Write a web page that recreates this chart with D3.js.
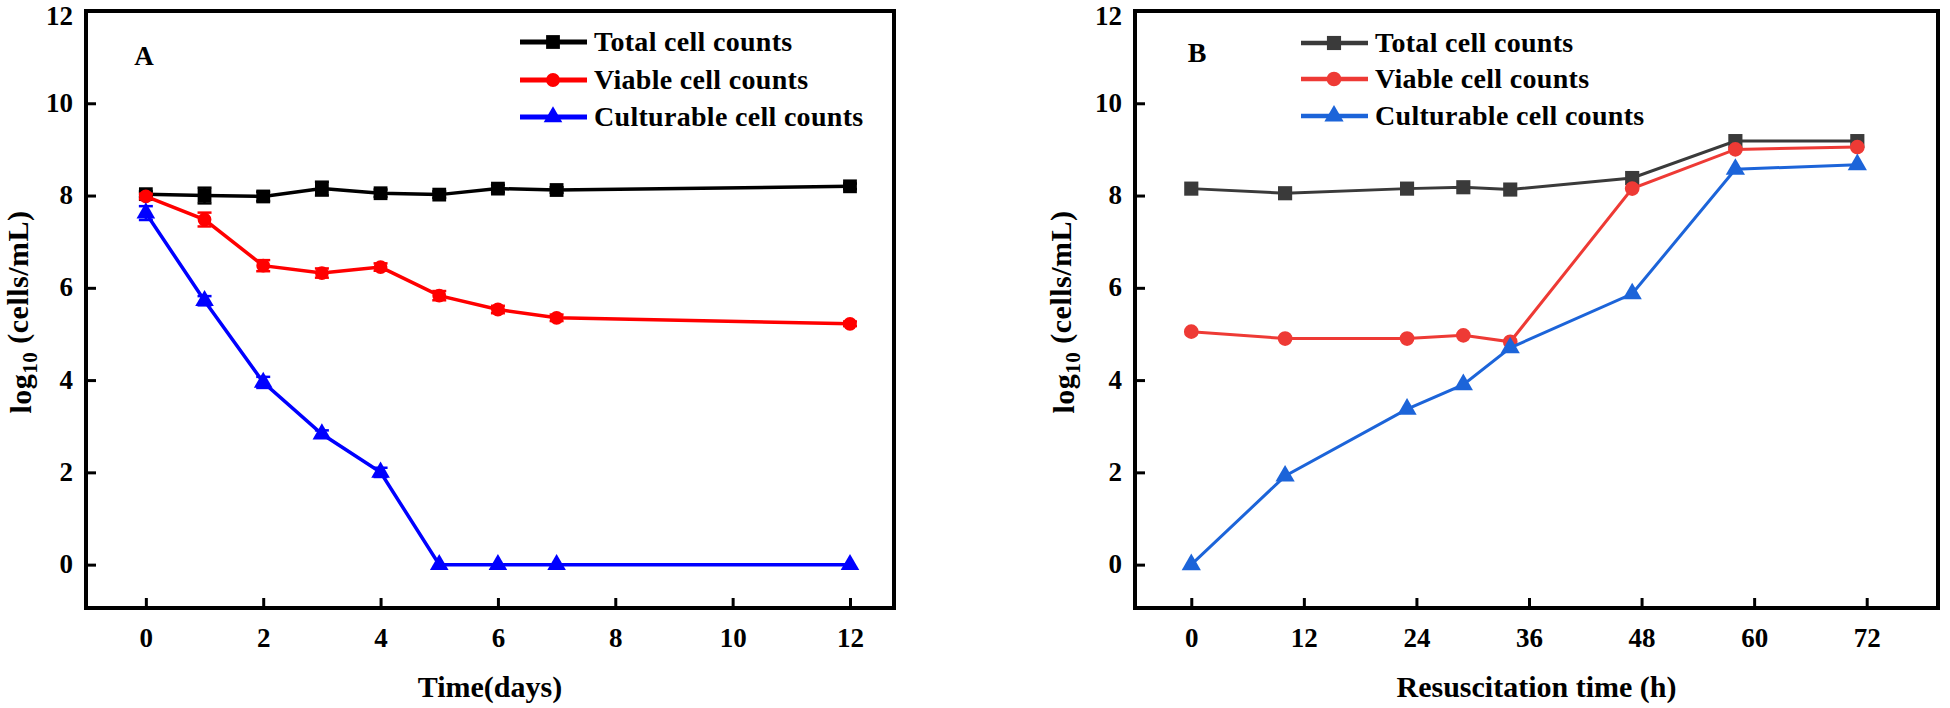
<!DOCTYPE html>
<html>
<head>
<meta charset="utf-8">
<script src="https://cdn.jsdelivr.net/npm/d3@7"></script>
<style>
  body { margin: 0; background: #fff; }
  text { font-family: "Liberation Serif", "Times New Roman", serif; font-weight: bold; fill: #000; }
</style>
</head>
<body>
<div id="chart"></div>
<script>
// Panel A: survival over days
const daysA = [0, 1, 2, 3, 4, 5, 6, 7, 12];
const totalA = [8.03, 8.0, 7.98, 8.15, 8.05, 8.02, 8.15, 8.12, 8.2];
const viableA = [7.98, 7.48, 6.48, 6.32, 6.45, 5.83, 5.53, 5.35, 5.22];
const cultA = [7.62, 5.72, 3.95, 2.83, 2.0, 0, 0, 0, 0];
const totalErrA = [0.06, 0.17, 0.1, 0.15, 0.08, 0.07, 0.08, 0.06, 0.06];
const viableErrA = [0.06, 0.15, 0.12, 0.1, 0.08, 0.1, 0.08, 0.07, 0.05];
const cultErrA = [0.15, 0.1, 0.12, 0.08, 0.1, 0, 0, 0, 0];
const xTicksA = [0, 2, 4, 6, 8, 10, 12];

// Panel B: resuscitation
const hoursB = [0, 10, 23, 29, 34, 47, 58, 71];
const totalB = [8.15, 8.05, 8.15, 8.18, 8.13, 8.38, 9.18, 9.18];
const viableB = [5.05, 4.9, 4.9, 4.97, 4.83, 8.15, 9.0, 9.05];
const cultB = [0, 1.92, 3.37, 3.9, 4.7, 5.87, 8.57, 8.67];
const xTicksB = [0, 12, 24, 36, 48, 60, 72];

const yTicks = [0, 2, 4, 6, 8, 10, 12];
const seriesNames = ['Total cell counts', 'Viable cell counts', 'Culturable cell counts'];
const symbols = [d3.symbolSquare, d3.symbolCircle, d3.symbolTriangle];

const svg = d3.select('#chart')
  .append('svg')
  .attr('width', 1950)
  .attr('height', 708);

function drawPanel(p) {
  const x = d3.scaleLinear().domain(p.xDomain).range([p.left, p.right]);
  const y = d3.scaleLinear().domain([-0.94, 12]).range([608, 11]);
  const g = svg.append('g');

  // axes, ticks pointing inward
  const xAxis = g.append('g')
    .attr('transform', `translate(0,${y(-0.94)})`)
    .call(d3.axisBottom(x).tickValues(p.xTicks).tickSize(-10).tickPadding(20));
  const yAxis = g.append('g')
    .attr('transform', `translate(${x(p.xDomain[0])},0)`)
    .call(d3.axisLeft(y).tickValues(yTicks).tickSize(-10).tickPadding(13));
  [xAxis, yAxis].forEach(a => {
    a.select('.domain').remove();
    a.selectAll('.tick line').attr('stroke', '#000').attr('stroke-width', 3);
    a.selectAll('.tick text').style('font-size', '27px').style('font-weight', 'bold');
  });
  // top label sits a little lower, as in the original
  yAxis.selectAll('.tick text').attr('dy', d => d === 12 ? '0.5em' : '0.3em');

  // frame
  g.append('rect')
    .attr('x', x(p.xDomain[0]))
    .attr('y', y(12))
    .attr('width', x(p.xDomain[1]) - x(p.xDomain[0]))
    .attr('height', y(-0.94) - y(12))
    .attr('fill', 'none')
    .attr('stroke', '#000')
    .attr('stroke-width', 4);

  // lines, error bars and markers
  p.series.forEach((vals, i) => {
    const pts = p.xs.map((d, j) => ({ x: d, y: vals[j], e: p.errs ? p.errs[i][j] : 0 }));
    g.append('path')
      .datum(pts)
      .attr('fill', 'none')
      .attr('stroke', p.colors[i])
      .attr('stroke-width', p.lineW)
      .attr('d', d3.line().x(d => x(d.x)).y(d => y(d.y)));

    if (p.errs) {
      const eb = g.append('g').attr('stroke', p.colors[i]).attr('stroke-width', 2.5);
      pts.filter(d => d.e > 0).forEach(d => {
        eb.append('line').attr('x1', x(d.x)).attr('x2', x(d.x)).attr('y1', y(d.y - d.e)).attr('y2', y(d.y + d.e));
        [d.y - d.e, d.y + d.e].forEach(v => {
          eb.append('line').attr('x1', x(d.x) - 7).attr('x2', x(d.x) + 7).attr('y1', y(v)).attr('y2', y(v));
        });
      });
    }

    g.selectAll(null)
      .data(pts)
      .enter()
      .append('path')
      .attr('transform', d => `translate(${x(d.x)},${y(d.y)})`)
      .attr('d', d3.symbol().type(symbols[i]).size(p.markSize[i]))
      .attr('fill', p.colors[i]);
  });

  // legend
  seriesNames.forEach((name, i) => {
    const ly = p.legY[i];
    g.append('line')
      .attr('x1', p.legX).attr('x2', p.legX + 67)
      .attr('y1', ly).attr('y2', ly)
      .attr('stroke', p.colors[i]).attr('stroke-width', p.lineW + 1.5);
    g.append('path')
      .attr('transform', `translate(${p.legX + 33},${ly})`)
      .attr('d', d3.symbol().type(symbols[i]).size(p.markSize[i]))
      .attr('fill', p.colors[i]);
    g.append('text')
      .attr('x', p.legX + 74)
      .attr('y', ly)
      .attr('dy', '0.33em')
      .style('font-size', '28px')
      .style('letter-spacing', '0.3px')
      .text(name);
  });

  // panel letter
  g.append('text')
    .attr('x', p.letterX)
    .attr('y', p.letterY)
    .attr('dy', '0.35em')
    .attr('text-anchor', 'middle')
    .style('font-size', p.letterSize)
    .text(p.letter);

  // axis titles
  g.append('text')
    .attr('x', (x(p.xDomain[0]) + x(p.xDomain[1])) / 2)
    .attr('y', 697)
    .attr('text-anchor', 'middle')
    .style('font-size', '30px')
    .text(p.xTitle);

  const yt = g.append('text')
    .attr('transform', `translate(${p.yTitleX},312) rotate(-90)`)
    .attr('text-anchor', 'middle')
    .attr('dy', '0.35em')
    .style('font-size', '30px')
    .style('letter-spacing', '0.5px');
  yt.append('tspan').text('log');
  yt.append('tspan').attr('dy', '0.3em').style('font-size', '21px').text('10');
  yt.append('tspan').attr('dy', '-0.3em').text(' (cells/mL)');
}

drawPanel({
  xDomain: [-1.02, 12.75], left: 86, right: 894,
  xTicks: xTicksA, xs: daysA,
  series: [totalA, viableA, cultA],
  errs: [totalErrA, viableErrA, cultErrA],
  colors: ['#000000', '#ff0000', '#0000ff'],
  lineW: 3.5, markSize: [190, 150, 150],
  legX: 520, legY: [42, 80, 117],
  letter: 'A', letterX: 144, letterY: 56, letterSize: '27px',
  xTitle: 'Time(days)', yTitleX: 20
});

drawPanel({
  xDomain: [-6, 79.6], left: 1135, right: 1938,
  xTicks: xTicksB, xs: hoursB,
  series: [totalB, viableB, cultB],
  errs: null,
  colors: ['#3a3a3a', '#ee3a35', '#1c64d9'],
  lineW: 3, markSize: [200, 170, 160],
  legX: 1301, legY: [43, 79, 116],
  letter: 'B', letterX: 1197, letterY: 52, letterSize: '28px',
  xTitle: 'Resuscitation time (h)', yTitleX: 1063
});
</script>
</body>
</html>
